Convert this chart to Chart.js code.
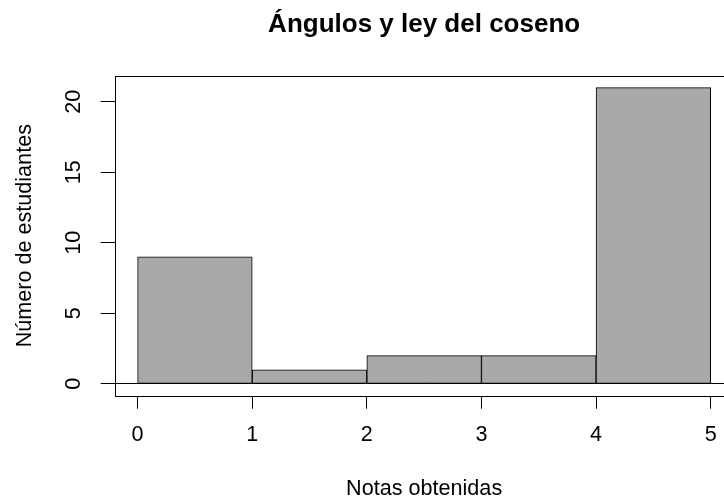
<!DOCTYPE html>
<html>
<head>
<meta charset="utf-8">
<script src="https://cdn.jsdelivr.net/npm/chart.js@4/dist/chart.umd.min.js"></script>
<style>
  html, body { margin: 0; padding: 0; background: #fff; overflow: hidden; }
  #wrap { position: absolute; left: 0; top: 0; width: 760px; height: 503px; }
</style>
</head>
<body>
<div id="wrap"><canvas id="hist" width="760" height="503"></canvas></div>
<script>
// histogram data
const binEdges = [0, 1, 2, 3, 4, 5];
const counts = [9, 1, 2, 2, 21];
const xTicks = [0, 1, 2, 3, 4, 5];
const yTicks = [0, 5, 10, 15, 20];

const chartTitle = 'Ángulos y ley del coseno';
const xTitle = 'Notas obtenidas';
const yTitle = 'Número de estudiantes';

const FONT = 'Liberation Sans, Arial, Helvetica, sans-serif';

const points = counts.map((c, i) => ({
  x: (binEdges[i] + binEdges[i + 1]) / 2,
  y: c
}));

// R style frame round the plot region
const boxPlugin = {
  id: 'box',
  afterDraw(chart) {
    const a = chart.chartArea;
    const ctx = chart.ctx;
    ctx.save();
    ctx.strokeStyle = '#000';
    ctx.lineWidth = 1;
    ctx.strokeRect(Math.round(a.left) + 0.5, Math.round(a.top) + 0.5,
      Math.round(a.right - a.left), Math.round(a.bottom - a.top));
    ctx.restore();
  }
};

new Chart(document.getElementById('hist'), {
  type: 'bar',
  data: {
    datasets: [{
      data: points,
      backgroundColor: '#A9A9A9',
      borderColor: '#000',
      borderWidth: 1,
      borderSkipped: false,
      barPercentage: 1,
      categoryPercentage: 1
    }]
  },
  options: {
    responsive: false,
    animation: false,
    devicePixelRatio: 1,
    layout: { padding: { left: 0, top: 0, right: 26.4, bottom: 0 } },
    plugins: {
      legend: { display: false },
      tooltip: { enabled: false },
      title: {
        display: true,
        text: chartTitle,
        fullSize: false,
        color: '#000',
        font: { family: FONT, size: 26, weight: 'bold' },
        padding: { top: 9.4, bottom: 35.1 }
      }
    },
    scales: {
      x: {
        type: 'linear',
        min: -0.2,
        max: 5.2,
        offset: false,
        afterBuildTicks: s => { s.ticks = xTicks.map(v => ({ value: v })); },
        afterFit: s => { s.height = 107.3; },
        border: { display: false },
        grid: {
          offset: false,
          drawOnChartArea: false,
          drawTicks: true,
          tickLength: 13,
          tickColor: '#000'
        },
        ticks: {
          color: '#000',
          padding: 13.8,
          maxRotation: 0,
          font: { family: FONT, size: 21.6 },
          callback: v => String(v)
        },
        title: {
          display: true,
          text: xTitle,
          color: '#000',
          font: { family: FONT, size: 21.6 },
          padding: { top: 0.5, bottom: 0.5 }
        }
      },
      y: {
        min: -0.84,
        max: 21.84,
        afterBuildTicks: s => { s.ticks = yTicks.map(v => ({ value: v })); },
        afterFit: s => { s.width = 114.7; },
        border: { display: false },
        grid: {
          drawTicks: true,
          tickLength: 14,
          tickColor: '#000',
          color: c => (c.tick && c.tick.value === 0 ? '#000' : 'rgba(0,0,0,0)')
        },
        ticks: {
          color: '#000',
          minRotation: 90,
          maxRotation: 90,
          crossAlign: 'center',
          padding: 14.2,
          font: { family: FONT, size: 21.6 },
          callback: v => String(v)
        },
        title: {
          display: true,
          text: yTitle,
          color: '#000',
          font: { family: FONT, size: 21.6 },
          padding: { top: 12.5, bottom: 12.5 }
        }
      }
    }
  },
  plugins: [boxPlugin]
});
</script>
</body>
</html>
